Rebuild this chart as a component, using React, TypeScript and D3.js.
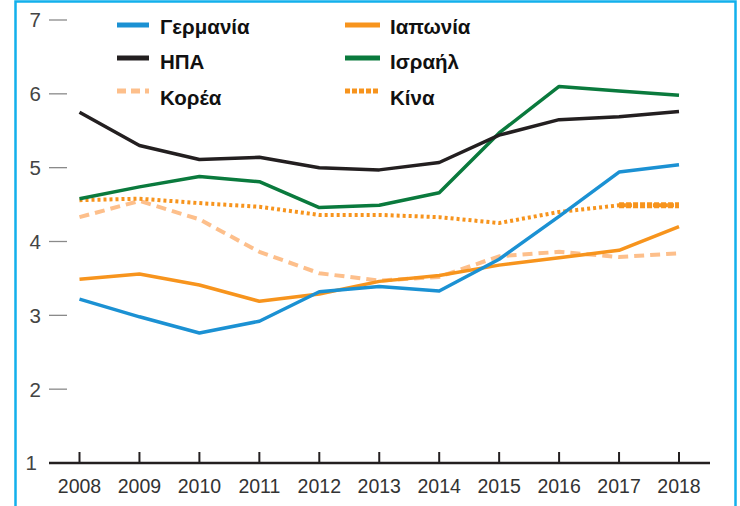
import React from "react";
import * as d3 from "d3";

const years = [2008, 2009, 2010, 2011, 2012, 2013, 2014, 2015, 2016, 2017, 2018];
const yTicks = [1, 2, 3, 4, 5, 6, 7];

const germany = [3.22, 2.98, 2.76, 2.92, 3.32, 3.39, 3.33, 3.76, 4.34, 4.94, 5.04];
const japan = [3.49, 3.56, 3.41, 3.19, 3.29, 3.46, 3.54, 3.68, 3.78, 3.88, 4.2];
const usa = [5.75, 5.3, 5.11, 5.14, 5.0, 4.97, 5.07, 5.44, 5.65, 5.69, 5.76];
const israel = [4.58, 4.74, 4.88, 4.81, 4.46, 4.49, 4.66, 5.47, 6.1, 6.04, 5.98];
const korea = [4.33, 4.55, 4.3, 3.86, 3.57, 3.47, 3.52, 3.8, 3.86, 3.79, 3.84];
const china = [4.56, 4.58, 4.52, 4.47, 4.36, 4.36, 4.33, 4.25, 4.4, 4.49, 4.49];

const seriesNames = ["Γερμανία", "Ιαπωνία", "ΗΠΑ", "Ισραήλ", "Κορέα", "Κίνα"];

type S = { name: string; values: number[]; color: string; dash?: string; width: number };

const series: S[] = [
  { name: seriesNames[4], values: korea, color: "#fdbf8b", dash: "10,6", width: 4 },
  { name: seriesNames[5], values: china, color: "#f7941d", dash: "3,3", width: 4 },
  { name: seriesNames[1], values: japan, color: "#f7941d", width: 3.5 },
  { name: seriesNames[0], values: germany, color: "#1b91d3", width: 3.5 },
  { name: seriesNames[3], values: israel, color: "#0a7a3d", width: 3.5 },
  { name: seriesNames[2], values: usa, color: "#231f20", width: 3.5 },
];

export default function App() {
  const W = 740;
  const H = 506;
  const x = d3.scaleLinear().domain([2008, 2018]).range([79.5, 679]);
  const y = d3.scaleLinear().domain([1, 7]).range([463, 20]);
  const line = d3
    .line<number>()
    .x((_, i) => x(years[i]))
    .y((d) => y(d));

  const chinaLast = d3
    .line<number>()
    .x((_, i) => x(years[9 + i]))
    .y((d) => y(d))(china.slice(9));

  const legend = [
    { name: seriesNames[0], color: "#1b91d3", dash: undefined as string | undefined, col: 0, row: 0 },
    { name: seriesNames[2], color: "#231f20", dash: undefined, col: 0, row: 1 },
    { name: seriesNames[4], color: "#fdbf8b", dash: "9,5", col: 0, row: 2 },
    { name: seriesNames[1], color: "#f7941d", dash: undefined, col: 1, row: 0 },
    { name: seriesNames[3], color: "#0a7a3d", dash: undefined, col: 1, row: 1 },
    { name: seriesNames[5], color: "#f7941d", dash: "5,2", col: 1, row: 2 },
  ];
  const colX = [117, 345];
  const swatchW = [32, 35];
  const rowY = [25, 58, 91];
  const textY = [27, 62, 98];

  return (
    <svg
      width={W}
      height={H}
      style={{ position: "absolute", left: 0, top: 0, background: "#fff" }}
      fontFamily="'Liberation Sans', Arial, sans-serif"
    >
      <rect x={15.5} y={1.5} width={720} height={520} fill="none" stroke="#12b0ec" strokeWidth={2.5} />
      {yTicks.map((t) => (
        <g key={t}>
          {t > 1 && (
            <line x1={49} x2={67} y1={y(t)} y2={y(t)} stroke="#8a8a8a" strokeWidth={1.3} />
          )}
          <text x={t === 1 ? 37 : 41} y={y(t)} dy="0.36em" textAnchor="end" fontSize={20.5} fill="#444">
            {t}
          </text>
        </g>
      ))}
      <line x1={49} x2={710} y1={y(1)} y2={y(1)} stroke="#231f20" strokeWidth={2.5} />
      {years.map((yr) => (
        <g key={yr}>
          <line x1={x(yr)} x2={x(yr)} y1={y(1)} y2={y(1) - 11} stroke="#231f20" strokeWidth={2} />
          <text x={x(yr)} y={493} textAnchor="middle" fontSize={19.5} fill="#333">
            {yr}
          </text>
        </g>
      ))}
      {series.map((s) => (
        <path
          key={s.name}
          d={line(s.values) || ""}
          fill="none"
          stroke={s.color}
          strokeWidth={s.width}
          strokeDasharray={s.dash}
          strokeLinejoin="round"
        />
      ))}
      <path d={chinaLast || ""} fill="none" stroke="#f7941d" strokeWidth={6} strokeDasharray="5,2" />
      {legend.map((l) => (
        <g key={l.name}>
          <line
            x1={colX[l.col]}
            x2={colX[l.col] + swatchW[l.col]}
            y1={rowY[l.row]}
            y2={rowY[l.row]}
            stroke={l.color}
            strokeWidth={5}
            strokeDasharray={l.dash}
          />
          <text
            x={colX[l.col] + (l.col === 0 ? 43 : 45)}
            y={textY[l.row]}
            dy="0.36em"
            fontSize={20.5}
            fontWeight="bold"
            fill="#111"
          >
            {l.name}
          </text>
        </g>
      ))}
    </svg>
  );
}
